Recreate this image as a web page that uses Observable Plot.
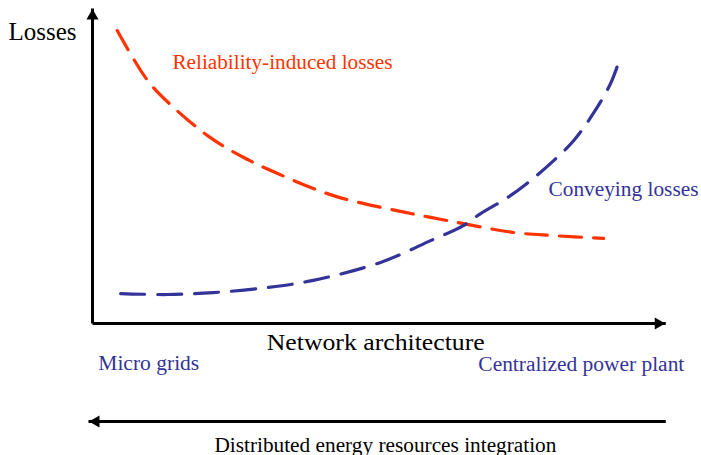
<!DOCTYPE html>
<html>
<head>
<meta charset="utf-8">
<script src="https://cdn.jsdelivr.net/npm/d3@7"></script>
<script src="https://cdn.jsdelivr.net/npm/@observablehq/plot@0.6"></script>
<style>
  html, body { margin: 0; padding: 0; background: #fff; }
  svg { overflow: visible; }
</style>
</head>
<body>
<div id="chart"></div>
<script>
// Schematic curves (abstract units: x = network architecture 0..10, y = losses 0..10)
const reliabilityX = [0.43, 0.96, 1.41, 2.05, 2.63, 3.22, 4.19, 5.27, 5.88, 6.45, 7.32, 8.02, 8.89];
const reliabilityY = [9.30, 7.71, 6.86, 5.90, 5.27, 4.76, 4.06, 3.59, 3.37, 3.17, 2.89, 2.79, 2.70];
const conveyingX = [0.49, 1.30, 2.10, 3.04, 3.84, 5.01, 5.88, 6.45, 6.75, 7.22, 7.62, 8.02, 8.37, 8.71, 9.01, 9.15];
const conveyingY = [0.95, 0.92, 0.98, 1.14, 1.37, 1.94, 2.63, 3.11, 3.49, 4.00, 4.54, 5.17, 5.81, 6.67, 7.62, 8.29];

// Axis arrows: [x1, y1, x2, y2] (tip at x2,y2), and head rotation
const arrowX1 = [0, 0, 9.97];
const arrowY1 = [0, 0, -3.11];
const arrowX2 = [0, 9.97, -0.07];
const arrowY2 = [10.0, 0, -3.11];
const arrowRotate = [0, 90, -90];
const arrowDx = [0, -7.5, 7.5];
const arrowDy = [7.5, 0, 0];

// Labels
const blackLabels = ["Losses", "Network architecture", "Distributed energy resources integration"];
const blackX = [-1.46, 3.03, 2.12];
const blackY = [9.26, -0.60, -3.87];
const blackSize = [25, 23, 20];

const redLabels = ["Reliability-induced losses"];
const redX = [1.39];
const redY = [8.29];

const blueLabels = ["Conveying losses", "Micro grids", "Centralized power plant"];
const blueX = [7.93, 0.10, 6.71];
const blueY = [4.26, -1.27, -1.30];

// rendered text widths (px) matching the reference's wide serif face
const labelWidths = {
  "Losses": 68,
  "Network architecture": 218,
  "Distributed energy resources integration": 342,
  "Reliability-induced losses": 220,
  "Conveying losses": 150,
  "Micro grids": 101,
  "Centralized power plant": 206
};

const red = "#FF3300";
const blue = "#333399";
const idx = n => d3.range(n);

const chart = Plot.plot({
  width: 701,
  height: 455,
  marginLeft: 92,
  marginRight: 34,
  marginTop: 8,
  marginBottom: 132,
  x: {domain: [0, 10], axis: null},
  y: {domain: [0, 10], axis: null},
  style: {fontFamily: "'Liberation Serif', 'Times New Roman', serif", background: "#fff", overflow: "visible"},
  marks: [
    Plot.link(idx(3), {
      x1: i => arrowX1[i], y1: i => arrowY1[i], x2: i => arrowX2[i], y2: i => arrowY2[i],
      stroke: "#000", strokeWidth: 3
    }),
    Plot.dot(idx(3), {
      x: i => arrowX2[i], y: i => arrowY2[i], symbol: "triangle", r: 4.5,
      rotate: i => arrowRotate[i], fill: "#000", stroke: null
    }),
    Plot.line(idx(reliabilityX.length), {
      x: i => reliabilityX[i], y: i => reliabilityY[i], curve: "catmull-rom",
      stroke: red, strokeWidth: 3.2, strokeDasharray: "22,12"
    }),
    Plot.line(idx(conveyingX.length), {
      x: i => conveyingX[i], y: i => conveyingY[i], curve: "catmull-rom",
      stroke: blue, strokeWidth: 3.2, strokeDasharray: "24,13"
    }),
    ...blackLabels.map((t, i) => Plot.text([t], {
      x: () => blackX[i], y: () => blackY[i], text: d => d,
      fontSize: blackSize[i], textAnchor: "start", fill: "#000"
    })),
    Plot.text(redLabels, {
      x: (d, i) => redX[i], y: (d, i) => redY[i], text: d => d,
      fontSize: 20, textAnchor: "start", fill: red
    }),
    Plot.text(blueLabels, {
      x: (d, i) => blueX[i], y: (d, i) => blueY[i], text: d => d,
      fontSize: 20, textAnchor: "start", fill: blue
    })
  ]
});

// offset arrowheads so their tips sit at the arrow ends
d3.select(chart).selectAll("g[aria-label='dot'] path").each(function(d, j) {
  const t = d3.select(this).attr("transform") || "";
  d3.select(this).attr("transform", `translate(${arrowDx[j]},${arrowDy[j]}) ` + t);
});

// stretch labels to the reference widths
d3.select(chart).selectAll("text").each(function() {
  const w = labelWidths[this.textContent];
  if (w) d3.select(this).attr("textLength", w).attr("lengthAdjust", "spacingAndGlyphs");
});

document.getElementById("chart").appendChild(chart);
</script>
</body>
</html>
